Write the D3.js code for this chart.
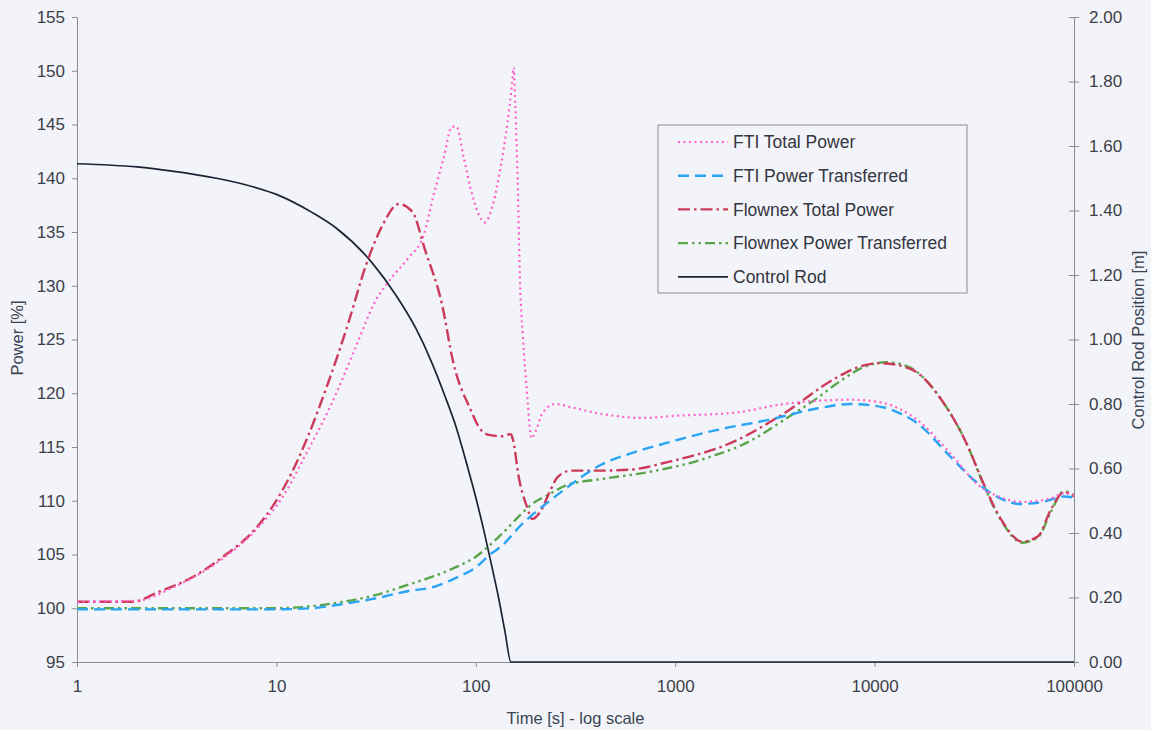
<!DOCTYPE html>
<html>
<head>
<meta charset="utf-8">
<script src="https://cdn.jsdelivr.net/npm/d3@7"></script>
<style>
  body { margin: 0; background: #f3f4fa; }
  svg { display: block; font-family: "Liberation Sans", Arial, sans-serif; }
  .axis path, .axis line { stroke: #8a8c94; }
  .axis text { fill: #3c3f48; font-size: 17px; }
  .axis-label { fill: #3a4452; font-size: 16.5px; }
</style>
</head>
<body>
<div id="chart"></div>
<script>
// 1: DATA
const ftiTotalTime = [1, 2, 3, 5, 8, 10.7, 14.4, 19, 25, 31, 38, 46, 55, 61, 69, 76, 80, 87, 94, 103, 111, 122, 133, 144, 152, 155, 158, 162, 167, 172, 182, 190, 200, 215, 250, 300, 420, 690, 1000, 2000, 3500, 5200, 7600, 11000, 16400, 24000, 33000, 43000, 55000, 76000, 89000, 100000];
const ftiTotalPower = [100.6, 100.7, 101.9, 104.2, 107.4, 110.3, 114.7, 119.1, 124.3, 128.4, 130.8, 132.6, 134.8, 138.2, 141.9, 144.8, 144.8, 141.9, 139.1, 136.7, 135.9, 137.6, 141.0, 145.1, 148.8, 150.3, 146.5, 140.0, 129.8, 125.5, 119.3, 115.8, 116.5, 118.1, 119.0, 118.7, 118.1, 117.7, 117.9, 118.2, 119.0, 119.3, 119.4, 119.1, 117.5, 114.4, 111.5, 110.3, 109.9, 110.2, 110.7, 110.5];

const ftiTransTime = [1, 10, 15, 20, 31, 46, 62, 79, 100, 118, 133, 172, 195, 228, 290, 420, 620, 915, 1630, 2900, 5200, 7600, 11000, 13500, 16400, 24000, 33000, 43000, 53000, 70000, 89000, 100000];
const ftiTransPower = [99.9, 99.9, 100.0, 100.3, 100.9, 101.6, 102.0, 102.8, 103.8, 105.0, 105.7, 107.9, 108.8, 109.8, 111.3, 113.3, 114.5, 115.4, 116.6, 117.5, 118.6, 119.0, 118.7, 118.1, 117.2, 114.1, 111.6, 110.2, 109.7, 109.9, 110.4, 110.3];

const flxTotalTime = [1, 1.9, 2.55, 3.8, 5.5, 7.6, 9.9, 12, 14.4, 18.2, 23, 28, 34, 41, 48, 55.5, 68, 77, 94, 105, 118, 135, 150, 153, 165, 180, 192, 211, 237, 257, 300, 420, 600, 915, 1970, 3500, 6240, 8500, 10700, 15000, 22000, 29300, 35000, 43000, 55000, 66000, 76700, 89000, 100000];
const flxTotalPower = [100.6, 100.6, 101.5, 102.9, 104.9, 107.1, 109.9, 112.7, 116.0, 121.0, 126.6, 131.8, 135.6, 137.6, 136.9, 133.4, 128.1, 122.9, 118.5, 116.7, 116.1, 116.0, 116.2, 115.8, 112.0, 109.5, 108.3, 109.0, 111.0, 112.2, 112.8, 112.8, 112.9, 113.6, 115.5, 118.1, 121.3, 122.5, 122.8, 122.3, 119.2, 115.1, 111.7, 108.3, 106.2, 106.7, 109.2, 110.8, 110.4];

const flxTransTime = [1, 3, 10, 15, 20, 31, 46, 62, 79, 100, 133, 172, 195, 228, 290, 420, 750, 1340, 2400, 3500, 5200, 6800, 9000, 11500, 15000, 22000, 29300, 35000, 43000, 55000, 66000, 76700, 89000, 100000];
const flxTransPower = [100.0, 100.0, 100.0, 100.2, 100.5, 101.2, 102.2, 103.0, 103.8, 104.8, 106.8, 108.9, 109.8, 110.5, 111.5, 112.0, 112.7, 113.8, 115.6, 117.5, 119.6, 121.2, 122.5, 122.9, 122.4, 119.2, 115.1, 111.6, 108.2, 106.1, 106.6, 109.0, 110.9, 110.5];

const rodTime = [1, 2, 3, 5, 7, 10, 15, 20, 30, 40, 50, 60, 70, 80, 90, 100, 110, 120, 130, 140, 150, 1000, 100000];
const rodPosition = [1.545, 1.535, 1.522, 1.50, 1.48, 1.45, 1.395, 1.345, 1.24, 1.135, 1.035, 0.93, 0.825, 0.725, 0.615, 0.51, 0.405, 0.30, 0.20, 0.095, 0.0, 0.0, 0.0];

const xTicks = [1, 10, 100, 1000, 10000, 100000];
const powerTicks = d3.range(95, 156, 5);
const rodTicks = d3.range(0, 11).map(i => i * 0.2);

const seriesNames = ["FTI Total Power", "FTI Power Transferred", "Flownex Total Power", "Flownex Power Transferred", "Control Rod"];

// 2: SVG
const W = 1151, H = 730;
const plot = { left: 77, right: 1074, top: 17, bottom: 662 };

const svg = d3.select("#chart").append("svg")
    .attr("width", W)
    .attr("height", H);

// 3: SCALES
const x = d3.scaleLog().domain([1, 100000]).range([plot.left, plot.right]);
const yPower = d3.scaleLinear().domain([95, 155]).range([plot.bottom, plot.top]);
const yRod = d3.scaleLinear().domain([0, 2]).range([plot.bottom, plot.top]);

// 4: AXES
svg.append("g")
    .attr("class", "axis")
    .attr("transform", `translate(${plot.left},0)`)
    .call(d3.axisLeft(yPower).tickValues(powerTicks).tickFormat(d3.format("d")).tickSizeOuter(0).tickSize(5).tickPadding(7));

const rightAxis = svg.append("g")
    .attr("class", "axis")
    .attr("transform", `translate(${plot.right},0)`)
    .call(d3.axisRight(yRod).tickValues(rodTicks).tickFormat(d3.format(".2f")).tickSizeOuter(0).tickSize(5).tickPadding(10));
rightAxis.selectAll(".tick line").attr("x1", -5); // ticks cross the axis
rightAxis.selectAll("text").attr("fill", "#2e3a4c");

svg.append("g")
    .attr("class", "axis")
    .attr("transform", `translate(0,${plot.bottom})`)
    .call(d3.axisBottom(x).tickValues(xTicks).tickFormat(d3.format("d")).tickSizeOuter(0).tickSize(5).tickPadding(13));

// 5: LINES
const styles = [
    { color: "#ff5fc8", dash: "2,3.5", width: 2.2 },
    { color: "#2aa4f4", dash: "11,6", width: 2.4 },
    { color: "#cc3a5a", dash: "12,4,2.5,4", width: 2.4 },
    { color: "#5aa64a", dash: "10,4,2.5,4,2.5,4", width: 2.4 },
    { color: "#1c2434", dash: null, width: 1.7 }
];

const powerSeries = [
    [ftiTotalTime, ftiTotalPower],
    [ftiTransTime, ftiTransPower],
    [flxTotalTime, flxTotalPower],
    [flxTransTime, flxTransPower]
];

const powerLine = d3.line()
    .x(d => x(d[0]))
    .y(d => yPower(d[1]))
    .curve(d3.curveMonotoneX);

const rodLine = d3.line()
    .x(d => x(d[0]))
    .y(d => yRod(d[1]))
    .curve(d3.curveMonotoneX);

// draw the control rod first, then the power curves on top
svg.append("path")
    .datum(d3.zip(rodTime, rodPosition))
    .attr("fill", "none")
    .attr("stroke", styles[4].color)
    .attr("stroke-width", styles[4].width)
    .attr("d", rodLine);

[3, 2, 1, 0].forEach(i => {
    svg.append("path")
        .datum(d3.zip(powerSeries[i][0], powerSeries[i][1]))
        .attr("fill", "none")
        .attr("stroke", styles[i].color)
        .attr("stroke-width", styles[i].width)
        .attr("stroke-dasharray", styles[i].dash)
        .attr("d", powerLine);
});

// 6: LEGEND
const legend = svg.append("g").attr("transform", "translate(658,125)");
legend.append("rect")
    .attr("width", 309).attr("height", 168)
    .attr("fill", "none")
    .attr("stroke", "#8a8c94");

seriesNames.forEach((name, i) => {
    const yy = 17 + i * 33.7;
    legend.append("line")
        .attr("x1", 20).attr("x2", 70)
        .attr("y1", yy).attr("y2", yy)
        .attr("stroke", styles[i].color)
        .attr("stroke-width", styles[i].width)
        .attr("stroke-dasharray", styles[i].dash);
    legend.append("text")
        .attr("x", 75).attr("y", yy)
        .attr("dy", "0.35em")
        .attr("font-size", 17.5)
        .attr("fill", "#33363e")
        .text(name);
});

// 7: AXIS TITLES
svg.append("text")
    .attr("class", "axis-label")
    .attr("text-anchor", "middle")
    .attr("x", (plot.left + plot.right) / 2)
    .attr("y", 724)
    .text("Time [s] - log scale");

svg.append("text")
    .attr("class", "axis-label")
    .attr("text-anchor", "middle")
    .attr("transform", "rotate(-90)")
    .attr("x", -338)
    .attr("y", 23)
    .text("Power [%]");

svg.append("text")
    .attr("class", "axis-label")
    .attr("text-anchor", "middle")
    .attr("transform", "rotate(-90)")
    .attr("x", -340)
    .attr("y", 1144)
    .text("Control Rod Position [m]");
</script>
</body>
</html>
